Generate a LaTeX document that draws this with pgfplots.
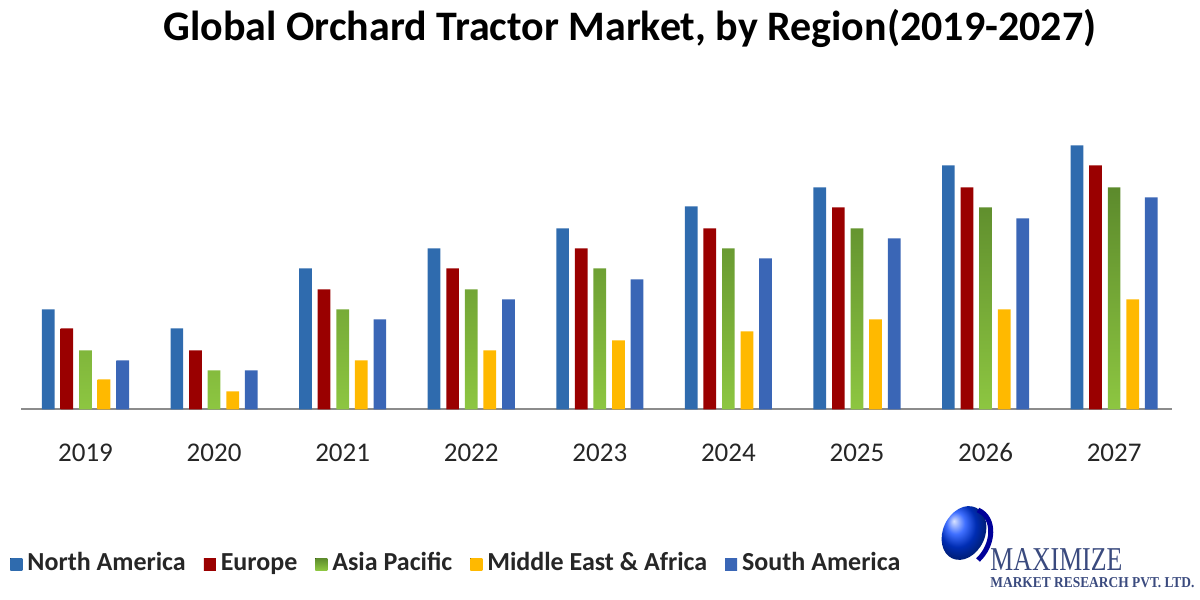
\documentclass[border=0pt]{standalone}
\usepackage{fontspec}
\setmainfont{Carlito}
\newfontfamily\logofont{Liberation Serif}
\usepackage{graphicx}
\usepackage{pgfplots}
\pgfplotsset{compat=1.18}

\definecolor{naA}{HTML}{2F6BAE}
\definecolor{naB}{HTML}{5FA0DA}
\definecolor{euA}{HTML}{9A0000}
\definecolor{euB}{HTML}{D20000}
\definecolor{apA}{HTML}{5C8A2C}
\definecolor{apB}{HTML}{8DC641}
\definecolor{meA}{HTML}{FFB900}
\definecolor{meB}{HTML}{FFD54A}
\definecolor{saA}{HTML}{3A66B6}
\definecolor{saB}{HTML}{4F82D2}
\definecolor{axisgray}{HTML}{8C8C8C}
\definecolor{logoblue}{HTML}{3A4A7E}

% bar heights in pixels above the baseline (no value axis in the original)
\pgfplotstableread{
x  na  eu  ap  me  sa
0  100 81  59  30  49
1  81  59  39  18  39
2  141 120 100 49  90
3  161 141 120 59  110
4  181 161 141 69  130
5  203 181 161 78  151
6  222 202 181 90  171
7  244 222 202 100 191
8  264 244 222 110 212
}\regiondata

\begin{document}
\begin{tikzpicture}
\begin{axis}[
    at={(10.6pt,95.35pt)}, anchor=south west,
    scale only axis, width=575.4pt, height=150pt,
    xmin=-0.5, xmax=8.45, ymin=0, ymax=300,
    enlargelimits=false, clip=false,
    ybar=2.95pt, bar width=6.35pt,
    axis x line*=bottom, hide y axis,
    x axis line style={draw=axisgray, line width=1pt, -},
    xtick={0,...,8},
    xticklabels={2019,2020,2021,2022,2023,2024,2025,2026,2027},
    major tick length=0pt,
    xticklabel style={font=\fontsize{13.5}{15}\selectfont, text=black!85,
        text height=9pt, text depth=0pt, yshift=-13.5pt},
    legend columns=-1,
    legend image code/.code={\fill[#1,draw=none] (0pt,-3pt) rectangle (6pt,3pt);},
    legend style={at={(axis description cs:0,0)}, anchor=west,
        xshift=-5.6pt, yshift=-77.35pt, draw=none, fill=none, inner sep=0pt,
        font=\fontsize{13}{15}\selectfont\bfseries, text=black!85,
        nodes={inner xsep=2.5pt, text height=9pt, text depth=2.5pt},
        /tikz/every even column/.append style={column sep=6.5pt}},
]
\addplot[draw=none, left color=naA, middle color=naB, right color=naA] table[x=x, y=na] {\regiondata};
\addlegendentry{North America}
\addplot[draw=none, left color=euA, middle color=euB, right color=euA] table[x=x, y=eu] {\regiondata};
\addlegendentry{Europe}
\addplot[draw=none, top color=apA, bottom color=apB] table[x=x, y=ap] {\regiondata};
\addlegendentry{Asia Pacific}
\addplot[draw=none, left color=meA, middle color=meB, right color=meA] table[x=x, y=me] {\regiondata};
\addlegendentry{Middle East \& Africa}
\addplot[draw=none, left color=saA, middle color=saB, right color=saA] table[x=x, y=sa] {\regiondata};
\addlegendentry{South America}
\end{axis}

% title and logo, placed in pixel units of the 1200x600 reference
\begin{scope}[shift={(0,300pt)}, x=0.5pt, y=-0.5pt]
\node[font=\fontsize{21}{23}\selectfont\bfseries] at (630,28) {Global Orchard Tractor Market, by Region(2019-2027)};
\shade[ball color=blue!75!cyan, rotate around={-25:(964,533)}] (964,533) ellipse (21 and 28);
\draw[line width=2.5pt, color=blue!60!black] (978,510) .. controls (996,518) and (994,545) .. (978,560);
\node[anchor=south west, inner sep=0pt, text=logoblue] at (990,571)
  {\resizebox{66pt}{11pt}{\logofont MAXIMIZE}};
\node[anchor=south west, inner sep=0pt, text=logoblue] at (990,588)
  {\resizebox{102pt}{5pt}{\logofont\bfseries MARKET RESEARCH PVT. LTD.}};
\end{scope}
\pgfresetboundingbox
\useasboundingbox (0,0) rectangle (600pt,300pt);
\end{tikzpicture}
\end{document}
